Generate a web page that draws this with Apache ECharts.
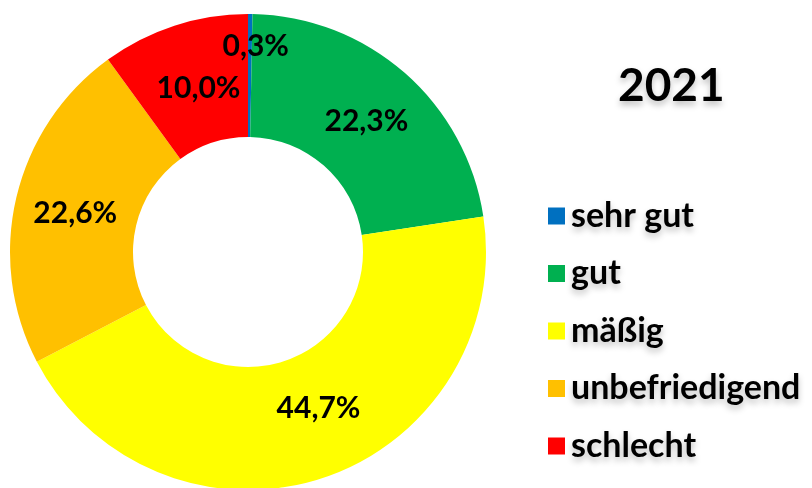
<!DOCTYPE html>
<html>
<head>
<meta charset="utf-8">
<script src="https://cdn.jsdelivr.net/npm/echarts@6/dist/echarts.min.js"></script>
<style>
  html, body { margin: 0; padding: 0; background: #fff; }
  #chart { width: 812px; height: 488px; }
</style>
</head>
<body>
<div id="chart"></div>
<script>
const year = '2021';
const categories = ['sehr gut', 'gut', 'mäßig', 'unbefriedigend', 'schlecht'];
const shares = [0.3, 22.3, 44.7, 22.6, 10.0];
const colors = ['#0070C0', '#00B050', '#FFFF00', '#FFC000', '#FF0000'];
// small nudges so labels sit where the original placed them
const labelOffsets = [[6, -26], [0, 4], [15, -14], [2, 2], [6, 7]];

const font = 'Lato, "Open Sans", sans-serif';
const shadow = {
  textShadowColor: 'rgba(0,0,0,0.25)',
  textShadowBlur: 6,
  textShadowOffsetY: 4
};

const chart = echarts.init(document.getElementById('chart'));

const data = categories.map((name, i) => ({
  name: name,
  value: shares[i],
  itemStyle: { color: colors[i] },
  label: { offset: labelOffsets[i] }
}));

chart.setOption({
  backgroundColor: '#fff',
  animation: false,
  title: {
    text: year,
    left: 613,
    top: 58,
    textStyle: Object.assign({
      fontFamily: font,
      fontSize: 46,
      fontWeight: 'bold',
      color: '#000'
    }, shadow)
  },
  legend: {
    orient: 'vertical',
    left: 543,
    top: 194,
    icon: 'rect',
    itemWidth: 17,
    itemHeight: 17,
    itemGap: 23.5,
    selectedMode: false,
    textStyle: Object.assign({
      fontFamily: font,
      fontSize: 34,
      fontWeight: 'bold',
      color: '#000',
      lineHeight: 34,
      padding: [0, 0, 0, 1]
    }, shadow)
  },
  series: [{
    type: 'pie',
    center: [248, 252],
    radius: [115, 238],
    startAngle: 90,
    clockwise: true,
    avoidLabelOverlap: false,
    data: data,
    label: {
      show: true,
      position: 'inside',
      formatter: p => p.value.toFixed(1).replace('.', ',') + '%',
      fontFamily: font,
      fontSize: 30,
      fontWeight: 'bold',
      color: '#000'
    },
    labelLine: { show: false },
    emphasis: { disabled: true }
  }]
});
</script>
</body>
</html>
